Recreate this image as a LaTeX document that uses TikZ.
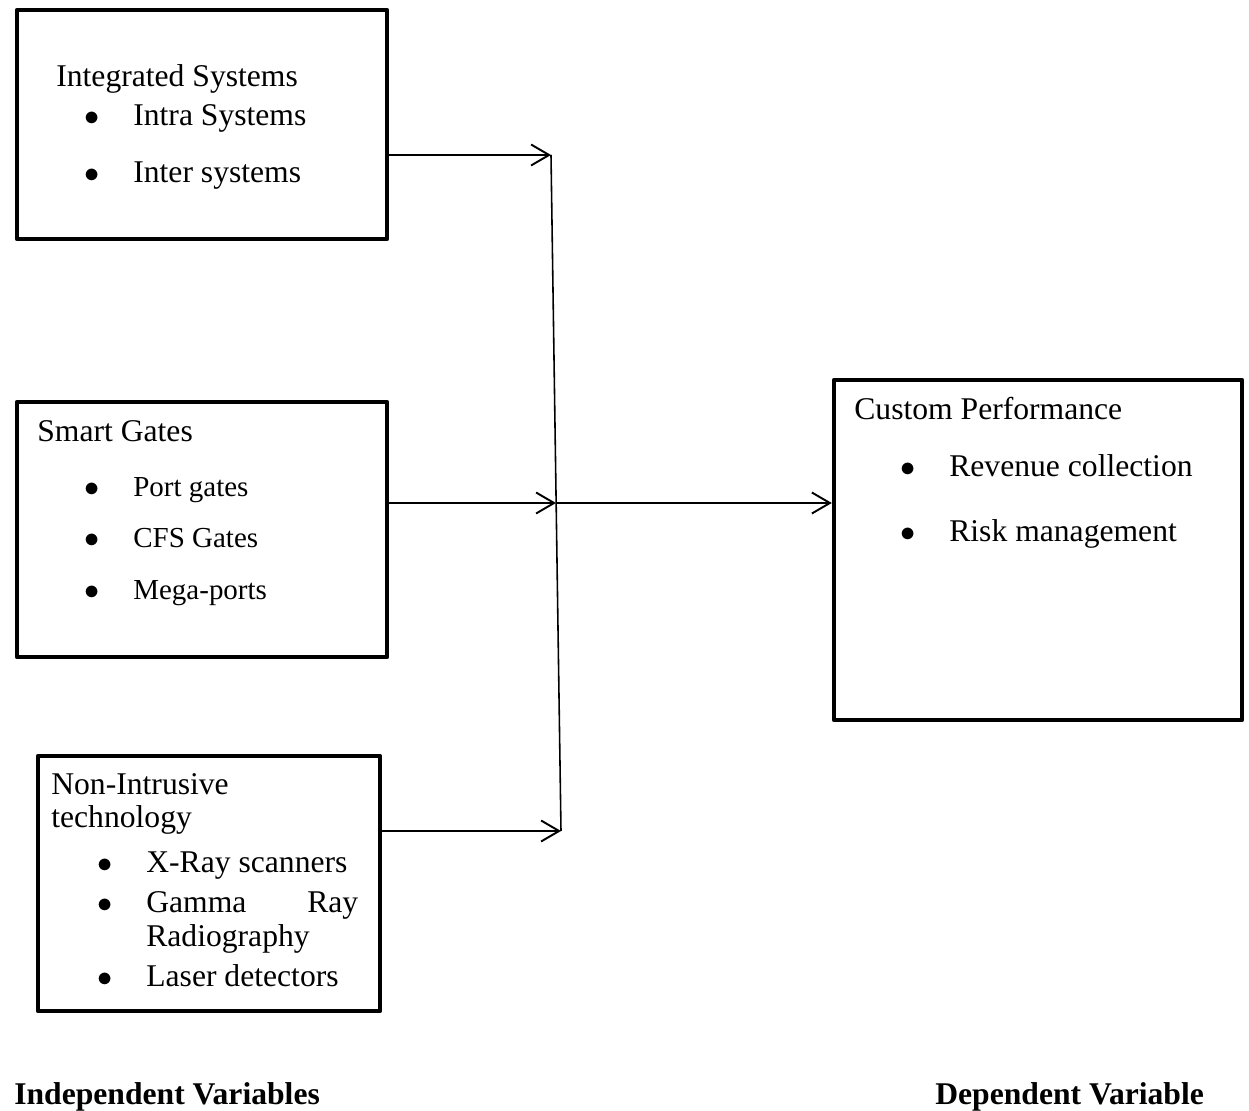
\documentclass[tikz,border=0pt]{standalone}
\usepackage{fontspec}
\setmainfont{Liberation Serif}
\usetikzlibrary{arrows.meta,fit}

\newcommand{\itm}[1]{\makebox[0.98cm][l]{$\bullet$}#1}

\tikzset{
  box/.style={draw, line width=2.5pt, line join=round, inner sep=0pt},
  txt/.style={anchor=base west, inner sep=0pt, font=\fontsize{18}{22}\selectfont},
  smalltxt/.style={txt, font=\fontsize{16.5}{20}\selectfont},
  headtxt/.style={txt, font=\fontsize{18}{22}\selectfont\bfseries},
  arr/.style={line width=1.1pt, -{Straight Barb[length=0.36cm,width=0.42cm]}}
}

\begin{document}
\begin{tikzpicture}[x=0.02cm,y=-0.02cm]
\useasboundingbox (0,0) rectangle (1249,1111);

\node[box, fit={(17,10) (387,239)}] (integ) {};
\node[box, fit={(17,402) (387,657)}] (smart) {};
\node[box, fit={(38,756) (380,1011)}] (nonint) {};
\node[box, fit={(834,380) (1242,720)}] (perf) {};

\node[txt] (integt) at (56,87) {Integrated Systems};
\node[txt] (intra) at (84,126) {\itm{Intra Systems}};
\node[txt] (inter) at (84,183) {\itm{Inter systems}};

\node[txt] (smartt) at (37,442) {Smart Gates};
\node[smalltxt] (port) at (84,497) {\itm{Port gates}};
\node[smalltxt] (cfs) at (84,548) {\itm{CFS Gates}};
\node[smalltxt] (mega) at (84,600) {\itm{Mega-ports}};

\node[txt] (nonintt) at (51,795) {Non-Intrusive};
\node[txt] (techt) at (51,827) {technology};
\node[txt] (xray) at (97,872) {\itm{X-Ray scanners}};
\node[txt] (gamma) at (97,912) {\itm{\makebox[4.24cm][l]{Gamma\hfill Ray}}};
\node[txt] (radio) at (146,947) {Radiography};
\node[txt] (laser) at (97,987) {\itm{Laser detectors}};

\node[txt] (perft) at (854,420) {Custom Performance};
\node[txt] (rev) at (900,477) {\itm{Revenue collection}};
\node[txt] (risk) at (900,542) {\itm{Risk management}};

\node[headtxt] (indep) at (14,1104) {Independent Variables};
\node[headtxt] (dep) at (935,1104) {Dependent Variable};

% joining line
\coordinate (top) at (551,155);
\coordinate (bot) at (561,831);
\coordinate (mid) at (556,503);
\draw[line width=0.9pt] (top) -- (bot);

\draw[arr] (integ.east |- top) -- (top);
\draw[arr] (smart.east |- mid) -- (mid);
\draw[arr] (nonint.east |- bot) -- (bot);
\draw[arr] (mid) -- (perf.west |- mid);
\end{tikzpicture}
\end{document}
